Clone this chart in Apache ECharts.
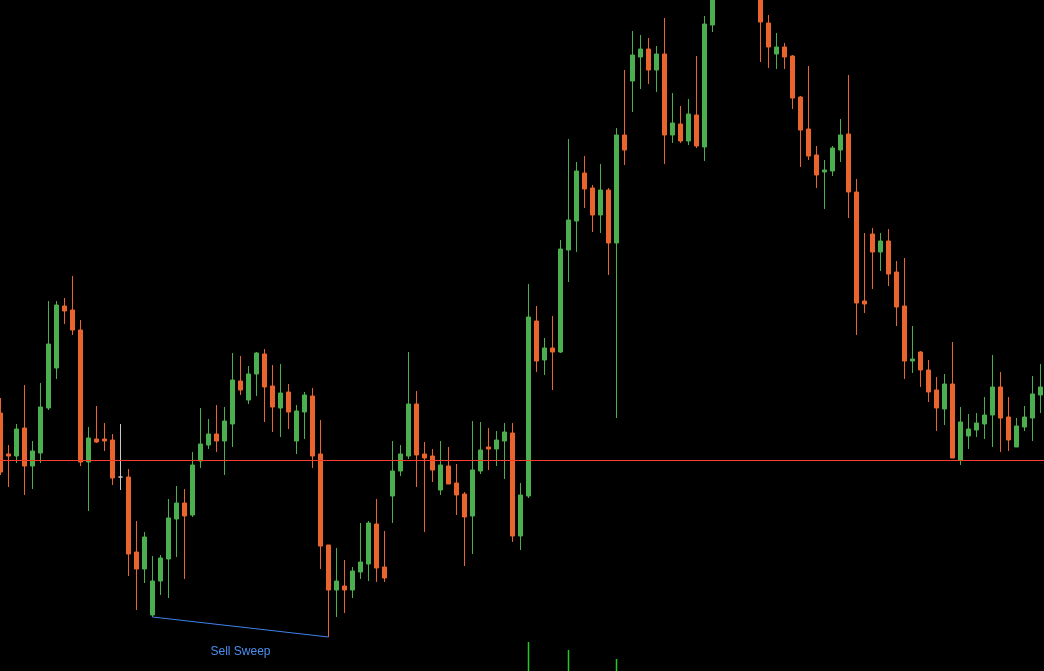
<!DOCTYPE html>
<html>
<head>
<meta charset="utf-8">
<style>
  html, body { margin: 0; padding: 0; background: #000; }
  #chart { width: 1044px; height: 671px; }
</style>
<script src="https://cdn.jsdelivr.net/npm/echarts@6/dist/echarts.min.js"></script>
</head>
<body>
<div id="chart"></div>
<script>
// Price values are in chart units measured downward from the top edge (axis is inverted).
const opens = [413,454,456,428,466,453,408,368,306,310,330,462,439,439,440,477,477,552,569,615,
  581,559,519,503,515,461,445,434,441,424,381,400,374,354,386,408,392,441,412,396,
  454,545,590,586,590,572,564,524,567,496,471,456,404,454,456,490,466,483,494,516,
  471,447,449,441,433,536,496,321,360,348,352,250,221,173,188,215,190,243,135,81,
  57,49,70,54,135,124,141,115,147,25,-20,-50,-35,-70,-55,-5,23,54,47,56,
  97,129,155,172,171,150,134,192,301,234,252,241,272,306,361,352,370,390,409,384,
  460,436,430,424,415,387,417,447,427,418,395];
const closes = [472,456,429,466,451,407,344,305,311,330,462,438,442,441,478,477,554,569,537,581,
  558,518,503,516,465,444,434,441,421,380,390,374,353,387,407,393,412,411,395,456,
  546,590,581,590,571,562,523,568,578,471,454,404,455,458,470,465,484,495,517,470,
  450,449,440,432,536,495,317,361,348,352,249,220,171,189,215,190,243,135,150,55,
  49,70,54,135,123,141,114,146,24,-8,-50,-35,-70,-55,-30,22,47,47,57,98,
  130,156,175,170,148,135,192,303,304,252,241,274,307,361,359,370,392,408,384,458,
  422,429,423,415,387,418,440,426,417,394,387];
const highs = [398,445,424,385,441,383,301,301,298,276,320,427,406,423,434,424,469,521,532,556,
  555,499,486,489,452,408,419,405,407,353,356,366,352,349,365,364,384,405,392,388,
  420,545,548,560,567,523,521,499,531,441,445,352,391,442,449,441,447,464,492,421,
  422,428,431,423,423,483,284,306,338,316,240,139,162,156,185,164,188,128,70,31,
  35,38,46,18,93,106,99,56,16,-20,-60,-65,-80,-85,-60,-10,15,33,43,55,
  96,66,146,160,146,119,75,179,233,228,233,229,261,258,326,351,360,377,374,342,
  407,414,413,397,355,372,397,418,406,376,364];
const lows = [475,487,463,495,489,463,410,379,324,335,466,511,443,451,485,490,576,610,583,617,
  595,598,557,579,517,468,449,452,475,447,395,404,396,422,432,437,429,454,439,468,
  569,637,617,613,598,579,581,582,582,523,476,459,487,532,482,495,484,515,566,554,
  474,470,466,479,542,550,498,372,375,390,353,282,252,208,232,233,275,418,165,112,
  89,84,92,164,143,143,145,148,161,32,-10,-25,-30,-45,-20,62,68,69,69,109,
  167,160,188,209,176,162,218,335,313,289,271,286,326,379,373,387,402,431,425,458,
  465,449,437,439,447,452,451,447,431,441,413];
// Lower-panel spikes: [candle index, height from bottom]
const volumeSpikes = [[66, 29], [71, 21], [77, 12]];
const referenceLevel = 460.5;
const sweepFrom = 19, sweepTo = 41;
const sweepLabel = 'Sell Sweep';
const sweepLabelAt = [30, 652];

const categories = opens.map((_, i) => String(i));
const UP = '#4caf4f', DOWN = '#ea642d', DOJI = '#c8c8c8';

const candleData = opens.map((o, i) => {
  const item = { value: [o, closes[i], highs[i], lows[i]] };
  if (o === closes[i]) {
    item.itemStyle = { color: DOJI, color0: DOJI, borderColor: DOJI, borderColor0: DOJI, borderColorDoji: DOJI };
  }
  return item;
});

const chart = echarts.init(document.getElementById('chart'), null, { renderer: 'canvas' });
chart.setOption({
  backgroundColor: '#000',
  animation: false,
  grid: { left: -3.5, top: 0, width: 1048, height: 671, containLabel: false, outerBoundsMode: 'none' },
  xAxis: {
    type: 'category', data: categories, boundaryGap: true,
    axisLine: { show: false }, axisTick: { show: false }, axisLabel: { show: false }, splitLine: { show: false }
  },
  yAxis: [
    { type: 'value', inverse: true, min: 0, max: 671, show: false, splitLine: { show: false } },
    { type: 'value', min: 0, max: 671, show: false, splitLine: { show: false } }
  ],
  series: [
    {
      type: 'candlestick',
      data: candleData,
      barWidth: 4,
      clip: true,
      itemStyle: {
        color: DOWN, color0: UP, borderColor: DOWN, borderColor0: UP, borderWidth: 1
      },
      markLine: {
        silent: true, symbol: 'none', animation: false,
        label: { show: false },
        data: [
          [{ yAxis: referenceLevel, x: 0, lineStyle: { color: '#ff3b2b', width: 1, type: 'solid' } },
           { yAxis: referenceLevel, x: 1044 }],
          [{ coord: [sweepFrom, lows[sweepFrom]], lineStyle: { color: '#3d84ea', width: 1, type: 'solid' } },
           { coord: [sweepTo, lows[sweepTo]] }]
        ]
      },
      markPoint: {
        silent: true, symbol: 'rect', symbolSize: 0,
        data: [{
          coord: sweepLabelAt,
          label: {
            show: true, formatter: sweepLabel, position: 'inside',
            color: '#4a8ff0', fontSize: 12, fontFamily: 'Liberation Sans, Arial, sans-serif'
          }
        }]
      }
    },
    {
      type: 'bar',
      yAxisIndex: 1,
      data: volumeSpikes,
      barWidth: 1.5,
      itemStyle: { color: '#22cc22' },
      silent: true
    }
  ]
});
</script>
</body>
</html>
